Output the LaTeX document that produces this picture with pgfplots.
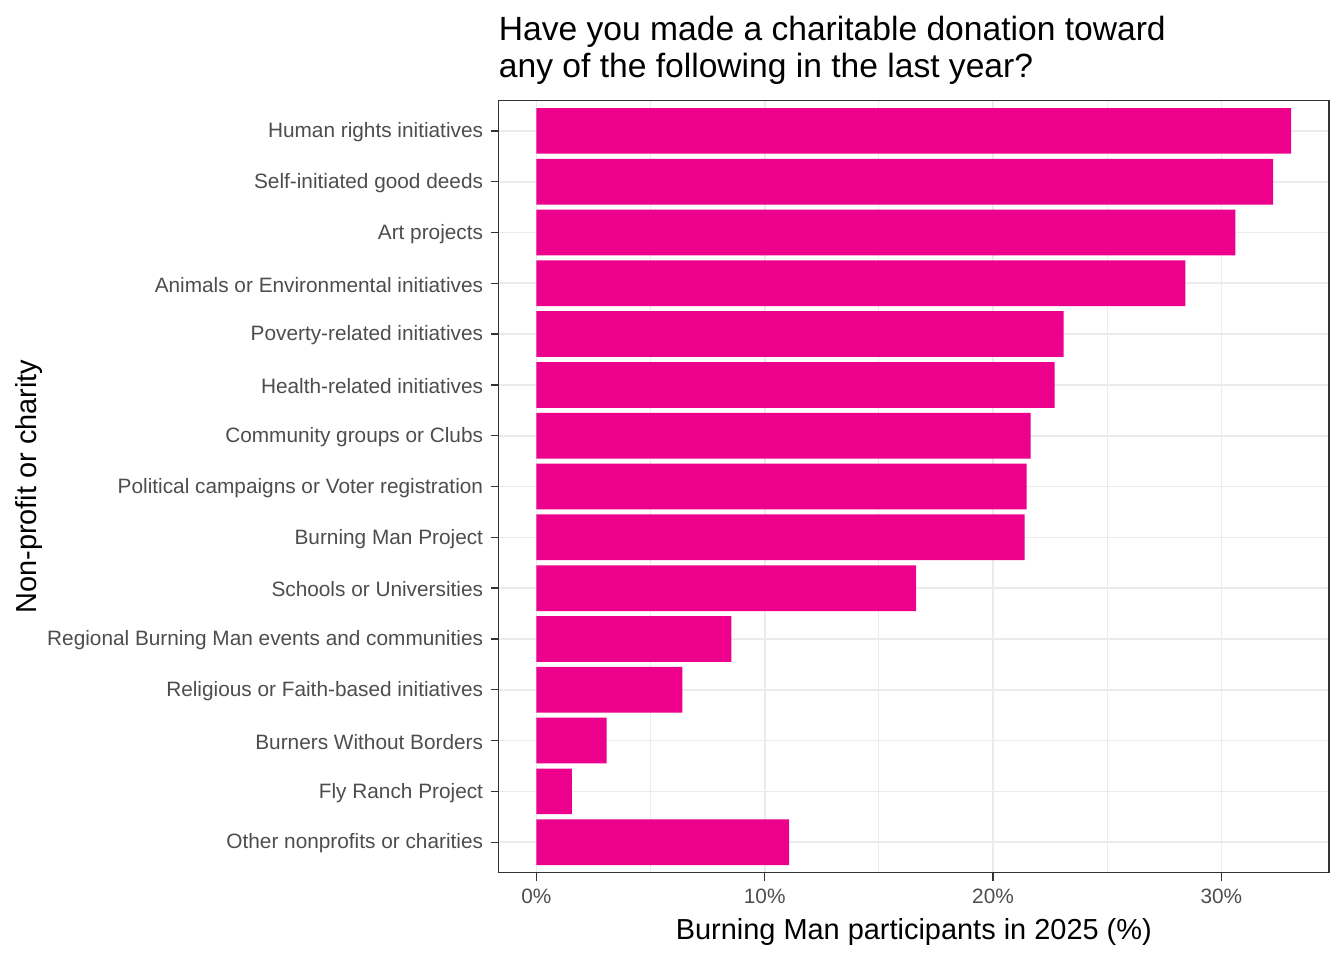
\documentclass[border=0pt]{standalone}
\usepackage{fontspec}
\setmainfont{Liberation Sans}
\usepackage{pgfplots}
\pgfplotsset{compat=1.18}
\definecolor{barpink}{HTML}{EC008C}
\definecolor{gridgray}{HTML}{EBEBEB}
\definecolor{framegray}{HTML}{333333}
\definecolor{labgray}{HTML}{4D4D4D}
\begin{document}
\begin{tikzpicture}
\useasboundingbox (0,0) rectangle (1008pt,720pt);
\begin{axis}[
  at={(374pt,65.5pt)}, anchor=south west,
  scale only axis, width=622.7pt, height=579.2pt,
  xmin=-1.653, xmax=34.713, ymin=0.4, ymax=15.6,
  xbar, bar width=0.9,
  xtick={0,10,20,30}, xticklabels={0\%,10\%,20\%,30\%},
  minor xtick={5,15,25},
  ytick={1,...,15},
  yticklabels={Other nonprofits or charities,Fly Ranch Project,Burners Without Borders,Religious or Faith-based initiatives,Regional Burning Man events and communities,Schools or Universities,Burning Man Project,Political campaigns or Voter registration,Community groups or Clubs,Health-related initiatives,Poverty-related initiatives,Animals or Environmental initiatives,Art projects,Self-initiated good deeds,Human rights initiatives},
  xmajorgrids, xminorgrids, ymajorgrids,
  major grid style={draw=gridgray, line width=1.25pt},
  minor grid style={draw=gridgray, line width=0.7pt},
  axis line style={draw=framegray, line width=1pt},
  tick align=outside, xtick pos=bottom, ytick pos=left,
  major tick length=6pt, minor tick length=0pt,
  tick style={draw=framegray, line width=1pt},
  ticklabel style={font=\fontsize{15.6}{18}\selectfont, text=labgray, inner sep=0pt},
  xticklabel style={anchor=north, yshift=-6pt},
  yticklabel style={anchor=east, xshift=-5.5pt, yshift=-1pt},
  xlabel={Burning Man participants in 2025 (\%)},
  ylabel={Non-profit or charity},
  label style={font=\fontsize{21.7}{24}\selectfont, inner sep=0pt},
  xlabel style={at={(axis description cs:0.5,-0.0859)}, anchor=base},
  ylabel style={at={(axis description cs:-0.5564,0.5)}, anchor=base},
  title={Have you made a charitable donation toward\\any of the following in the last year?},
  title style={at={(axis description cs:0,1.0187)}, anchor=base west, align=left, inner sep=0pt, font=\fontsize{25.2}{28.2}\selectfont},
]
\addplot[fill=barpink, draw=none] coordinates {
(11.07,1) (1.55,2) (3.07,3) (6.39,4) (8.54,5) (16.63,6) (21.38,7) (21.47,8) (21.65,9) (22.70,10) (23.09,11) (28.42,12) (30.61,13) (32.27,14) (33.06,15)
};
\end{axis}
\end{tikzpicture}
\end{document}
